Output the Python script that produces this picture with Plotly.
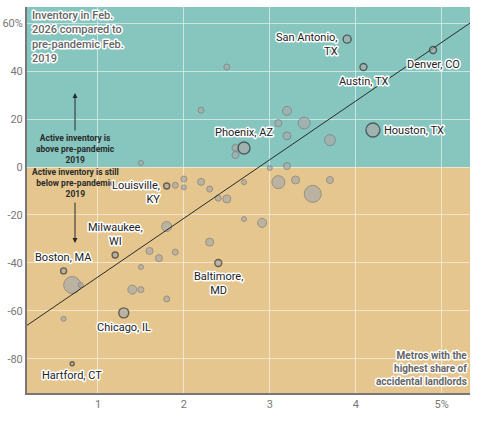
import plotly.graph_objects as go

# share of accidental landlords (%) vs inventory change vs Feb 2019 (%)
share = [2.50, 2.20, 1.50, 2.60, 2.60, 2.00, 2.20, 1.90, 2.00, 2.30, 2.40, 2.50,
         3.10, 3.40, 3.20, 3.20, 3.70, 3.20, 3.00, 2.70, 3.10, 3.30, 3.70, 3.50,
         2.70, 2.91, 1.80, 2.30, 1.60, 1.71, 1.90, 1.50, 0.70, 0.80, 1.40, 1.50,
         1.80, 0.60]
inventory = [41.7, 23.7, 1.7, 8.0, 5.0, -5.0, -6.2, -7.6, -8.5, -9.2, -13.0, -13.3,
             18.3, 18.3, 23.4, 13.0, 11.2, 0.4, -0.4, -6.3, -6.3, -5.4, -5.4, -11.2,
             -21.7, -23.3, -24.8, -31.3, -35.0, -38.0, -35.5, -41.7, -49.2, -49.2, -51.1, -51.1,
             -55.0, -63.3]
metro_size = [6, 6, 5, 7, 7, 6, 7, 6, 5, 6, 6, 8,
              7, 12, 9, 8, 11, 7, 5, 5, 13, 8, 7, 17,
              5, 9, 10, 8, 7, 7, 6, 5, 17, 5, 9, 6,
              6, 5]

# highlighted metros
hl_names = ["San Antonio,<br>TX", "Denver, CO", "Austin, TX", "Houston, TX", "Phoenix, AZ",
            "Louisville,<br>KY", "Milwaukee,<br>WI", "Boston, MA", "Baltimore,<br>MD",
            "Chicago, IL", "Hartford, CT"]
hl_share = [3.90, 4.90, 4.09, 4.20, 2.70, 1.80, 1.20, 0.60, 2.40, 1.30, 0.70]
hl_inventory = [53.3, 48.8, 41.7, 15.4, 7.9, -7.9, -36.7, -43.3, -40.0, -60.8, -82.0]
hl_size = [8, 7, 7, 14, 12, 6, 6, 6, 7, 10, 4]

# trend line
trend_x = [0.174, 5.33]
trend_y = [-66.0, 60.0]

x_ticks = [1, 2, 3, 4, 5]
x_labels = ["1", "2", "3", "4", "5%"]
y_ticks = [-80, -60, -40, -20, 0, 20, 40, 60]
y_labels = ["-80", "-60", "-40", "-20", "0", "20", "40", "60%"]

x_range = [0.174, 5.33]
y_range = [-94.2, 66.7]

font = "Roboto, sans-serif"

fig = go.Figure()

fig.add_trace(go.Scatter(
    x=share, y=inventory, mode="markers",
    marker=dict(size=metro_size, color="#aaaaaa", line=dict(color="#7a7a7a", width=1)),
    hoverinfo="skip", showlegend=False
))
fig.add_trace(go.Scatter(
    x=trend_x, y=trend_y, mode="lines",
    line=dict(color="#2b2b2b", width=1), hoverinfo="skip", showlegend=False
))
fig.add_trace(go.Scatter(
    x=hl_share, y=hl_inventory, mode="markers",
    marker=dict(size=hl_size, color="#aaaaaa", line=dict(color="#333333", width=1.4)),
    hoverinfo="skip", showlegend=False
))

# notes without halo (drawn first so labels sit on top)
fig.add_annotation(x=0.733, y=7.5, showarrow=False, align="center",
                   text="<b>Active inventory is<br>above pre-pandemic<br>2019</b>",
                   font=dict(family=font, size=8.5, color="#2b2b2b"))
fig.add_annotation(x=0.733, y=-6.7, showarrow=False, align="center",
                   text="<b>Active inventory is still<br>below pre-pandemic<br>2019</b>",
                   font=dict(family=font, size=8.5, color="#2b2b2b"))
fig.add_annotation(x=0.733, y=30.8, ax=0.733, ay=14.6, axref="x", ayref="y", text="",
                   showarrow=True, arrowhead=2, arrowsize=1, arrowwidth=1, arrowcolor="#2b2b2b")
fig.add_annotation(x=0.733, y=-31.7, ax=0.733, ay=-14.2, axref="x", ayref="y", text="",
                   showarrow=True, arrowhead=2, arrowsize=1, arrowwidth=1, arrowcolor="#2b2b2b")

# label placement: (xanchor, yanchor, xshift, yshift, align)
label_pos = {
    "San Antonio,<br>TX": ("right", "middle", -7, -5, "right"),
    "Denver, CO": ("center", "top", 0, -6, "center"),
    "Austin, TX": ("center", "top", 0, -6, "center"),
    "Houston, TX": ("left", "middle", 9, 0, "left"),
    "Phoenix, AZ": ("center", "bottom", 0, 7, "center"),
    "Louisville,<br>KY": ("right", "middle", -5, -7, "right"),
    "Milwaukee,<br>WI": ("center", "bottom", 0, 5, "center"),
    "Boston, MA": ("center", "bottom", 0, 5, "center"),
    "Baltimore,<br>MD": ("center", "top", 0, -5, "center"),
    "Chicago, IL": ("center", "top", 0, -6, "center"),
    "Hartford, CT": ("center", "top", 0, -3, "center"),
}
for name, xv, yv in zip(hl_names, hl_share, hl_inventory):
    xa, ya, xs, ys, al = label_pos[name]
    fig.add_annotation(x=xv, y=yv, text=name, showarrow=False, xanchor=xa, yanchor=ya,
                       xshift=xs, yshift=ys, align=al,
                       font=dict(family=font, size=11, color="#222"))

fig.add_annotation(xref="paper", yref="paper", x=0, y=1, xshift=3, xanchor="left", yanchor="top",
                   align="left", showarrow=False,
                   text="Inventory in Feb.<br>2026 compared to<br>pre-pandemic Feb.<br>2019",
                   font=dict(family=font, size=11, color="#666", weight=500))
fig.add_annotation(xref="paper", yref="paper", x=1, y=0, xshift=-1, yshift=4,
                   xanchor="right", yanchor="bottom", align="right", showarrow=False,
                   text="<b>Metros with the<br>highest share of<br>accidental landlords</b>",
                   font=dict(family=font, size=10, color="#666"))

# background halves
fig.add_shape(type="rect", xref="paper", yref="y", x0=0, x1=1, y0=0, y1=y_range[1],
              fillcolor="#86c6bf", line_width=0, layer="below")
fig.add_shape(type="rect", xref="paper", yref="y", x0=0, x1=1, y0=y_range[0], y1=0,
              fillcolor="#e4c68e", line_width=0, layer="below")

fig.update_xaxes(range=x_range, tickvals=x_ticks, ticktext=x_labels, showgrid=True,
                 gridcolor="rgba(255,255,255,0.55)", gridwidth=1, zeroline=False,
                 showline=True, linecolor="#777", linewidth=2, automargin=False,
                 tickfont=dict(family=font, size=11, color="#777"))
fig.update_yaxes(range=y_range, tickvals=y_ticks, ticktext=y_labels, showgrid=True,
                 gridcolor="rgba(255,255,255,0.55)", gridwidth=1, zeroline=False,
                 showline=True, linecolor="#777", linewidth=2, automargin=False,
                 tickfont=dict(family=font, size=11, color="#777"))

fig.update_layout(width=477, height=421, margin=dict(l=27, r=7, t=7, b=28),
                  paper_bgcolor="white", plot_bgcolor="white", font=dict(family=font))

# white halo behind label text (skip the dark explanatory notes)
halo_js = """
document.body.style.margin = '0';
function addHalo() {
  document.querySelectorAll('.annotation-text').forEach(function (t) {
    if ((t.style.fill || '').indexOf('43, 43, 43') < 0) {
      t.style.stroke = '#ffffff';
      t.style.strokeWidth = '3px';
      t.style.strokeLinejoin = 'round';
      t.style.paintOrder = 'stroke';
    }
  });
}
addHalo();
var gd = document.getElementById('{plot_id}');
if (gd && gd.on) { gd.on('plotly_afterplot', addHalo); }
"""

fig.write_html("out.html", config={"displayModeBar": False}, post_script=halo_js)
